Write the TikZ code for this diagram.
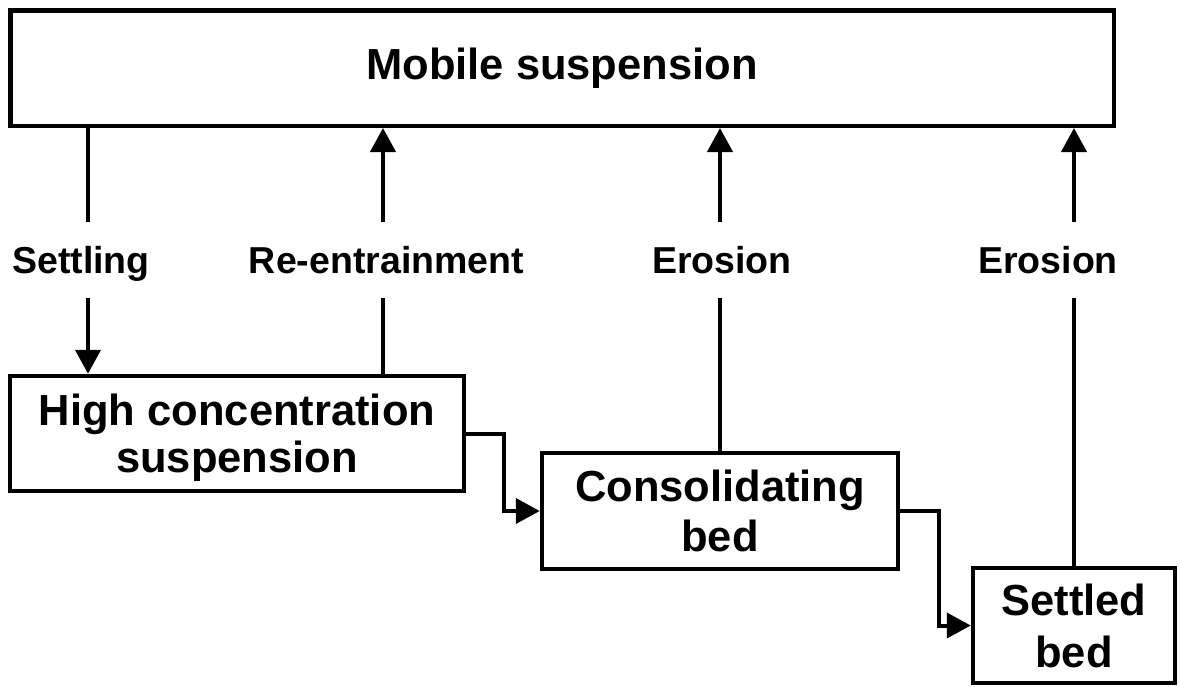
\documentclass[tikz,border=0pt]{standalone}
\usepackage{fontspec}
\setmainfont{Liberation Sans}
\usetikzlibrary{arrows.meta}
\begin{document}
\begin{tikzpicture}[x=1pt,y=-1pt,
  box/.style={draw, line width=4.5pt, inner sep=0pt, align=center,
    font=\fontsize{43.5}{47}\selectfont\bfseries},
  lab/.style={inner sep=0pt, outer sep=0pt, minimum height=76pt,
    text height=26.8pt, text depth=0pt,
    font=\fontsize{37.5}{40}\selectfont\bfseries},
  link/.style={line width=4pt},
  arr/.style={link, -{Triangle[length=24pt,width=25pt]}}]

% canvas
\fill[white] (0,0) rectangle (1180,686);
\useasboundingbox (0,0) rectangle (1180,686);

% states
\node[box, minimum width=1103.5pt, minimum height=115.5pt] (mob) at (562,68) {Mobile suspension};
\node[box, text depth=0pt, minimum width=454pt, minimum height=115pt] (hcs) at (237,433.5) {High concentration\\suspension};
\node[box, text depth=0pt, minimum width=356pt, minimum height=116pt] (cb) at (720,511) {Consolidating\\[3pt]bed};
\node[box, text depth=0pt, minimum width=202pt, minimum height=115pt] (sb) at (1074,625.5) {Settled\\[5pt]bed};

% process labels
\node[lab] (lset) at (81,260) {Settling};
\node[lab] (lre) at (386.5,260) {Re-entrainment};
\node[lab] (ler1) at (722,260) {Erosion};
\node[lab] (ler2) at (1048,260) {Erosion};

% x positions of the two left-hand exchanges
\coordinate (xs) at (88,0);
\coordinate (xr) at (383,0);

% settling
\draw[link] (mob.south -| xs) -- (lset.north -| xs);
\draw[arr] (lset.south -| xs) -- (hcs.north -| xs);
% re-entrainment
\draw[link] (hcs.north -| xr) -- (lre.south -| xr);
\draw[arr] (lre.north -| xr) -- (mob.south -| xr);
% erosion of the consolidating bed
\draw[link] (cb.north) -- (ler1.south -| cb.north);
\draw[arr] (ler1.north -| cb.north) -- (mob.south -| cb.north);
% erosion of the settled bed
\draw[link] (sb.north) -- (ler2.south -| sb.north);
\draw[arr] (ler2.north -| sb.north) -- (mob.south -| sb.north);

% consolidation sequence
\draw[arr] (hcs.east) -- ++(38,0) |- (cb.west);
\draw[arr] (cb.east) -- ++(39,0) |- (sb.west);
\end{tikzpicture}
\end{document}
